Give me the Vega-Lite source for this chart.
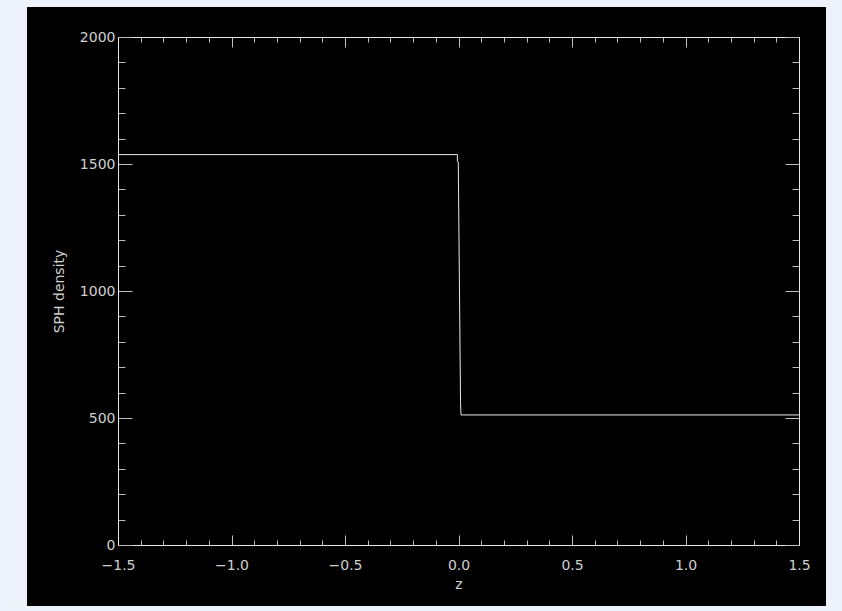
{
  "$schema": "https://vega.github.io/schema/vega-lite/v6.json",
  "width": 799,
  "height": 599,
  "autosize": {"type": "none"},
  "padding": {"left": 27, "top": 7, "right": 16, "bottom": 5},
  "background": "#eef2fb",
  "config": {
    "view": {"fill": "#000000", "stroke": null},
    "axis": {
      "grid": false,
      "labelFont": "DejaVu Sans",
      "titleFont": "DejaVu Sans",
      "labelFontSize": 14,
      "titleFontSize": 14,
      "titleFontWeight": "normal",
      "labelColor": "#cfcfcf",
      "titleColor": "#cfcfcf",
      "domainColor": "#e6e6e6",
      "tickColor": "#bdbdbd",
      "domainWidth": 1,
      "tickWidth": 1
    }
  },
  "data": {
    "values": [
      {"z": -1.5, "rho": 1537},
      {"z": -0.005, "rho": 1537},
      {"z": -0.005, "rho": 1510},
      {"z": -0.001, "rho": 1508},
      {"z": 0.009, "rho": 560},
      {"z": 0.011, "rho": 512},
      {"z": 1.5, "rho": 512}
    ]
  },
  "resolve": {"axis": {"x": "independent", "y": "independent"}},
  "layer": [
    {
      "mark": {"type": "line", "color": "#e8e8e8", "strokeWidth": 1, "interpolate": "linear"},
      "encoding": {
        "x": {
          "field": "z", "type": "quantitative",
          "scale": {"domain": [-1.5, 1.5], "range": [91, 772], "nice": false, "zero": false},
          "axis": {
            "orient": "bottom", "offset": -61,
            "values": [-1.5, -1.0, -0.5, 0.0, 0.5, 1.0, 1.5],
            "format": ".1f",
            "tickSize": -10, "labelPadding": 23,
            "labelFlush": false,
            "title": "z", "titlePadding": 5
          }
        },
        "y": {
          "field": "rho", "type": "quantitative",
          "scale": {"domain": [0, 2000], "range": [538, 30], "nice": false, "zero": false},
          "axis": {
            "orient": "left", "offset": -91,
            "values": [0, 500, 1000, 1500, 2000],
            "format": "d",
            "tickSize": -14, "labelPadding": 17,
            "labelFlush": false,
            "title": "SPH density", "titlePadding": 13
          }
        }
      }
    },
    {
      "mark": {"type": "line", "opacity": 0},
      "encoding": {
        "x": {
          "field": "z", "type": "quantitative",
          "axis": {
            "orient": "bottom", "offset": -61, "domain": false, "labels": false, "title": null,
            "values": [-1.4, -1.3, -1.2, -1.1, -0.9, -0.8, -0.7, -0.6, -0.4, -0.3, -0.2, -0.1, 0.1, 0.2, 0.3, 0.4, 0.6, 0.7, 0.8, 0.9, 1.1, 1.2, 1.3, 1.4],
            "tickSize": -5
          }
        },
        "y": {
          "field": "rho", "type": "quantitative",
          "axis": {
            "orient": "left", "offset": -91, "domain": false, "labels": false, "title": null,
            "values": [100, 200, 300, 400, 600, 700, 800, 900, 1100, 1200, 1300, 1400, 1600, 1700, 1800, 1900],
            "tickSize": -7
          }
        }
      }
    },
    {
      "mark": {"type": "line", "opacity": 0},
      "encoding": {
        "x": {
          "field": "z", "type": "quantitative",
          "axis": {
            "orient": "top", "offset": -30, "labels": false, "title": null,
            "values": [-1.5, -1.0, -0.5, 0.0, 0.5, 1.0, 1.5],
            "tickSize": -10
          }
        },
        "y": {
          "field": "rho", "type": "quantitative",
          "axis": {
            "orient": "right", "offset": -27, "labels": false, "title": null,
            "values": [0, 500, 1000, 1500, 2000],
            "tickSize": -14
          }
        }
      }
    },
    {
      "mark": {"type": "line", "opacity": 0},
      "encoding": {
        "x": {
          "field": "z", "type": "quantitative",
          "axis": {
            "orient": "top", "offset": -30, "domain": false, "labels": false, "title": null,
            "values": [-1.4, -1.3, -1.2, -1.1, -0.9, -0.8, -0.7, -0.6, -0.4, -0.3, -0.2, -0.1, 0.1, 0.2, 0.3, 0.4, 0.6, 0.7, 0.8, 0.9, 1.1, 1.2, 1.3, 1.4],
            "tickSize": -5
          }
        },
        "y": {
          "field": "rho", "type": "quantitative",
          "axis": {
            "orient": "right", "offset": -27, "domain": false, "labels": false, "title": null,
            "values": [100, 200, 300, 400, 600, 700, 800, 900, 1100, 1200, 1300, 1400, 1600, 1700, 1800, 1900],
            "tickSize": -7
          }
        }
      }
    }
  ]
}
